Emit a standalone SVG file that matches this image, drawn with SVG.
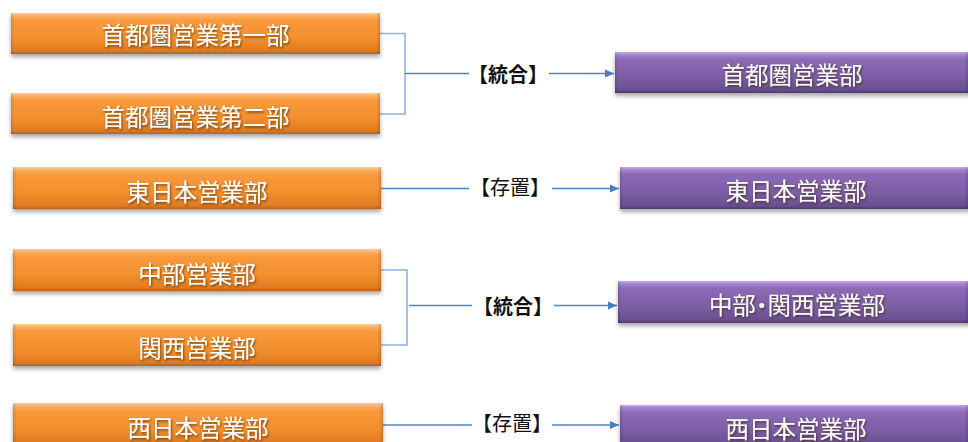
<svg xmlns="http://www.w3.org/2000/svg" width="968" height="442" viewBox="0 0 968 442">
<defs>
<linearGradient id="gOr" x1="0" y1="0" x2="0" y2="1">
<stop offset="0" stop-color="#FDD09A"/>
<stop offset="0.07" stop-color="#FBB061"/>
<stop offset="0.18" stop-color="#F99A3C"/>
<stop offset="0.6" stop-color="#F3902E"/>
<stop offset="0.92" stop-color="#E27B21"/>
<stop offset="1" stop-color="#B8611A"/>
</linearGradient>
<linearGradient id="gPu" x1="0" y1="0" x2="0" y2="1">
<stop offset="0" stop-color="#C4ABE6"/>
<stop offset="0.07" stop-color="#A384CC"/>
<stop offset="0.18" stop-color="#8C6BB6"/>
<stop offset="0.6" stop-color="#7C5EA5"/>
<stop offset="0.92" stop-color="#6A4F91"/>
<stop offset="1" stop-color="#4E3A6E"/>
</linearGradient>
<linearGradient id="gSide" x1="0" y1="0" x2="1" y2="0">
<stop offset="0" stop-color="#000" stop-opacity="0.12"/>
<stop offset="0.01" stop-color="#000" stop-opacity="0"/>
<stop offset="0.99" stop-color="#000" stop-opacity="0"/>
<stop offset="1" stop-color="#000" stop-opacity="0.15"/>
</linearGradient>
<filter id="boxShadow" x="-5%" y="-20%" width="110%" height="150%">
<feDropShadow dx="0" dy="3" stdDeviation="2" flood-color="#000" flood-opacity="0.35"/>
</filter>
<filter id="txtShadow" x="-10%" y="-30%" width="120%" height="160%">
<feDropShadow dx="1" dy="1.5" stdDeviation="1" flood-color="#3a2000" flood-opacity="0.7"/>
</filter>
<marker id="arr" markerUnits="userSpaceOnUse" markerWidth="10" markerHeight="10" refX="9" refY="5" orient="auto">
<path d="M0,1 L9,5 L0,9 z" fill="#4A7EBB"/>
</marker>
</defs>
<style>
.or{fill:url(#gOr);filter:url(#boxShadow)}
.pu{fill:url(#gPu);filter:url(#boxShadow)}
.side{fill:url(#gSide)}
.bt{font-family:"Noto Sans CJK JP","Noto Sans CJK SC",sans-serif;font-size:23.5px;fill:#fff;text-anchor:middle;filter:url(#txtShadow)}
.lb{font-family:"Noto Sans CJK JP","Noto Sans CJK SC",sans-serif;font-size:20px;fill:#111;text-anchor:middle}
.br{fill:none;stroke:#8FB2DF;stroke-width:1.6}
.ln{fill:none;stroke:#4F84C4;stroke-width:1.3}
.palt{font-feature-settings:"palt" 1}
</style>

<g id="connectors">
<path class="br" d="M380,33.5 H405 V114 H380"/>
<path class="ln" d="M405,73.5 H469"/>
<path class="ln" d="M549,73.5 H614" marker-end="url(#arr)"/>
<path class="ln" d="M381,188.5 H469"/>
<path class="ln" d="M552,188.5 H619" marker-end="url(#arr)"/>
<path class="br" d="M381,270 H407 V345 H381"/>
<path class="ln" d="M409,305.5 H472"/>
<path class="ln" d="M554,305.5 H617" marker-end="url(#arr)"/>
<path class="ln" d="M383,425 H472"/>
<path class="ln" d="M552,425 H619" marker-end="url(#arr)"/>
</g>

<g id="lbl1"><text class="lb" x="508" y="82" font-weight="700">【統合】</text></g>
<g id="lbl2"><text class="lb" x="510" y="195">【存置】</text></g>
<g id="lbl3"><text class="lb" x="513" y="314" font-weight="700">【統合】</text></g>
<g id="lbl4"><text class="lb" x="512" y="431">【存置】</text></g>

<g id="n1"><rect class="or" x="11" y="13" width="369" height="41"/><rect class="side" x="11" y="13" width="369" height="41"/><text class="bt" x="195.5" y="44">首都圏営業第一部</text></g>
<g id="n2"><rect class="or" x="11" y="93" width="369" height="41"/><rect class="side" x="11" y="93" width="369" height="41"/><text class="bt" x="195.5" y="125.5">首都圏営業第二部</text></g>
<g id="n3"><rect class="or" x="13" y="167" width="368" height="42"/><rect class="side" x="13" y="167" width="368" height="42"/><text class="bt" x="197" y="200.5">東日本営業部</text></g>
<g id="n4"><rect class="or" x="13" y="249" width="368" height="42"/><rect class="side" x="13" y="249" width="368" height="42"/><text class="bt" x="197" y="282.5">中部営業部</text></g>
<g id="n5"><rect class="or" x="13" y="324" width="368" height="42"/><rect class="side" x="13" y="324" width="368" height="42"/><text class="bt" x="197" y="357">関西営業部</text></g>
<g id="n6"><rect class="or" x="13" y="403" width="370" height="42"/><rect class="side" x="13" y="403" width="370" height="42"/><text class="bt" x="198" y="437">西日本営業部</text></g>

<g id="p1"><rect class="pu" x="615" y="52" width="360" height="41"/><rect class="side" x="615" y="52" width="353" height="41"/><text class="bt" x="792" y="84">首都圏営業部</text></g>
<g id="p2"><rect class="pu" x="620" y="167" width="355" height="42"/><rect class="side" x="620" y="167" width="348" height="42"/><text class="bt" x="796" y="199.5">東日本営業部</text></g>
<g id="p3"><rect class="pu" x="618" y="281" width="357" height="42"/><rect class="side" x="618" y="281" width="350" height="42"/><text class="bt palt" x="797" y="314">中部・関西営業部</text></g>
<g id="p4"><rect class="pu" x="620" y="405" width="355" height="42"/><rect class="side" x="620" y="405" width="348" height="42"/><text class="bt" x="796" y="438">西日本営業部</text></g>
</svg>
